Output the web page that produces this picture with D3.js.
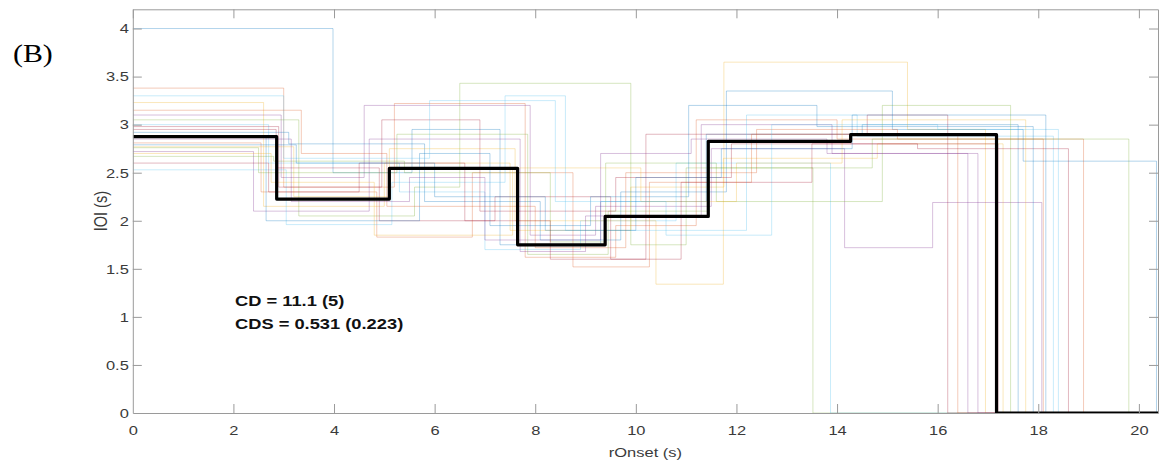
<!DOCTYPE html>
<html>
<head>
<meta charset="utf-8">
<script src="https://cdn.jsdelivr.net/npm/d3@7"></script>
<style>
  html, body { margin: 0; padding: 0; background: #fff; }
  svg { display: block; }
</style>
</head>
<body>
<svg id="chart" width="1159" height="468"></svg>
<script>
// Per-participant onset times (s) where the inter-onset interval changes, ending at the last onset
const trialTimes = [
  [0, 3.98, 5.55, 7.3, 9.3, 11.4, 14.5, 17.6],
  [0, 3.0, 5.2, 7.8, 9.6, 11.2, 14.0, 18.1],
  [0, 2.6, 5.0, 7.5, 9.9, 11.75, 15.4, 16.95],
  [0, 2.95, 4.6, 7.9, 9.2, 11.5, 14.15, 15.9, 18.07],
  [0, 3.3, 5.6, 6.5, 9.9, 11.0, 13.52],
  [0, 2.7, 5.3, 7.0, 8.9, 10.8, 13.87],
  [0, 2.85, 4.9, 7.2, 9.5, 10.2, 14.6, 16.2],
  [0, 3.1, 5.8, 8.1, 9.7, 11.8, 15.1, 17.7, 20.35],
  [0, 2.55, 4.85, 6.75, 8.75, 10.27, 12.3, 16.4],
  [0, 3.2, 5.1, 7.6, 10.4, 11.74, 14.8, 17.3],
  [0, 2.4, 4.7, 7.7, 9.0, 11.3, 13.9, 16.6],
  [0, 2.8, 5.4, 8.3, 9.4, 11.6, 14.9, 17.45],
  [0, 3.05, 5.15, 7.4, 8.6, 12.2, 14.4, 18.3],
  [0, 2.9, 4.95, 6.9, 9.6, 11.9, 15.6, 18.6],
  [0, 2.65, 5.7, 7.1, 9.1, 11.05, 13.6, 17.9],
  [0, 3.35, 5.05, 8.0, 9.8, 12.4, 15.2, 18.9],
  [0, 2.75, 4.8, 7.55, 10.1, 12.0, 14.1, 17.75],
  [0, 3.15, 5.5, 7.0, 9.3, 11.1, 13.8, 16.8],
  [0, 2.5, 5.25, 7.85, 9.45, 11.45, 14.7, 19.8],
  [0, 3.0, 5.9, 8.4, 10.6, 12.7, 16.0, 18.4],
  [0, 2.7, 4.5, 6.6, 8.3, 10.9, 13.5, 17.2],
  [0, 3.25, 6.0, 8.2, 10.0, 11.7, 14.3, 18.15]
];
// Inter-onset interval (s) held from each change time to the next
const trialIOI = [
  [4.0, 2.5, 2.95, 1.75, 2.2, 2.9, 3.0],
  [3.38, 2.35, 3.22, 1.62, 1.95, 3.05, 2.85],
  [3.23, 2.15, 2.6, 1.9, 2.35, 3.65, 2.95],
  [3.1, 2.45, 3.2, 1.85, 2.15, 2.75, 1.72, 2.19],
  [3.05, 2.05, 2.35, 3.43, 1.75, 2.55],
  [3.0, 2.6, 2.3, 1.7, 2.0, 2.6],
  [2.95, 2.55, 2.0, 2.25, 1.6, 2.9, 3.1],
  [2.92, 2.8, 2.2, 1.8, 2.3, 3.35, 2.95, 2.62],
  [2.81, 2.3, 1.83, 2.5, 1.52, 2.4, 2.9],
  [2.77, 2.25, 2.75, 2.0, 1.34, 2.65, 2.8],
  [2.72, 2.1, 2.85, 1.68, 2.05, 3.0, 2.7],
  [2.67, 2.62, 2.5, 1.78, 2.6, 2.2, 3.2],
  [2.53, 1.96, 2.4, 3.3, 1.9, 3.1, 2.88],
  [2.98, 2.35, 3.05, 2.1, 2.45, 2.8, 2.75],
  [2.88, 2.0, 2.7, 1.95, 2.25, 3.2, 2.98],
  [3.15, 2.7, 2.15, 1.72, 2.5, 2.95, 2.85],
  [2.7, 2.4, 1.85, 2.55, 2.2, 2.6, 3.05],
  [2.85, 2.2, 2.45, 1.8, 2.7, 2.85, 2.7],
  [2.76, 2.5, 2.9, 1.65, 2.1, 2.55, 2.85],
  [3.3, 2.65, 3.25, 2.2, 1.85, 3.0, 2.95],
  [2.6, 2.3, 2.6, 2.0, 1.6, 2.4, 2.8],
  [2.79, 2.6, 2.25, 1.9, 2.45, 2.75, 3.1]
];
// Group average step profile
const meanTimes = [0, 2.86, 5.10, 7.65, 9.39, 11.44, 14.27, 17.17];
const meanIOI = [2.875, 2.226, 2.545, 1.75, 2.045, 2.826, 2.896];

const xTicks = [0, 2, 4, 6, 8, 10, 12, 14, 16, 18, 20];
const yTicks = [0, 0.5, 1, 1.5, 2, 2.5, 3, 3.5, 4];
const xDomain = [0, 20.38];
const yDomain = [0, 4.2];
const statLines = ["CD = 11.1 (5)", "CDS = 0.531 (0.223)"];

const lineColors = ["#0072BD", "#D95319", "#EDB120", "#7E2F8E", "#77AC30", "#4DBEEE", "#A2142F"];

const svg = d3.select("#chart");
const m = { left: 132.8, right: 1158, top: 9.3, bottom: 413 };
const WIDEN = 1.22; // horizontal widening of all lettering

const x = d3.scaleLinear().domain(xDomain).range([m.left, m.right]);
const y = d3.scaleLinear().domain(yDomain).range([m.bottom, m.top]);

// widen a text element horizontally about its own anchor point
function widen(sel, sx) {
  sel.each(function () {
    const t = d3.select(this);
    const ax = +t.attr("x") || 0, ay = +t.attr("y") || 0;
    t.attr("transform", `translate(${ax},${ay}) scale(${sx},1) translate(${-ax},${-ay})`);
  });
}

// Turn change times + held values into a step path that drops to zero at the last onset
function toPoints(times, vals) {
  const pts = vals.map((v, i) => [times[i], v]);
  pts.push([times[times.length - 1], 0]);
  pts.push([xDomain[1], 0]);
  return pts;
}

const step = d3.line()
  .x(d => x(d[0]))
  .y(d => y(d[1]))
  .curve(d3.curveStepAfter);

const plot = svg.append("g");
plot.append("defs").append("clipPath").attr("id", "clip")
  .append("rect").attr("x", m.left).attr("y", m.top)
  .attr("width", m.right - m.left).attr("height", m.bottom - m.top);

const lines = plot.append("g").attr("clip-path", "url(#clip)");

lines.selectAll("path.trial")
  .data(trialTimes.map((t, i) => toPoints(t, trialIOI[i])))
  .join("path")
  .attr("class", "trial")
  .attr("d", step)
  .attr("fill", "none")
  .attr("stroke", (d, i) => lineColors[i % lineColors.length])
  .attr("stroke-opacity", 0.3)
  .attr("stroke-width", 1);

lines.append("path")
  .datum(toPoints(meanTimes, meanIOI))
  .attr("d", step)
  .attr("fill", "none")
  .attr("stroke", "#000")
  .attr("stroke-width", 3.2)
  .attr("stroke-linejoin", "round");

// Box axes with inward ticks on every side
const axisColor = "#9a9a9a";
const tickLen = 9;
const font = "'Liberation Sans', Arial, sans-serif";

const axB = svg.append("g").attr("transform", `translate(0,${m.bottom})`)
  .call(d3.axisBottom(x).tickValues(xTicks).tickSizeInner(-tickLen).tickSizeOuter(0).tickPadding(12).tickFormat(d3.format("d")));
const axT = svg.append("g").attr("transform", `translate(0,${m.top})`)
  .call(d3.axisTop(x).tickValues(xTicks).tickSizeInner(-tickLen).tickSizeOuter(0).tickFormat(""));
const axL = svg.append("g").attr("transform", `translate(${m.left},0)`)
  .call(d3.axisLeft(y).tickValues(yTicks).tickSizeInner(-tickLen).tickSizeOuter(0).tickPadding(4).tickFormat(d3.format("")));
const axR = svg.append("g").attr("transform", `translate(${m.right},0)`)
  .call(d3.axisRight(y).tickValues(yTicks).tickSizeInner(-tickLen).tickSizeOuter(0).tickFormat(""));

[axB, axT, axL, axR].forEach(a => {
  a.select(".domain").attr("stroke", axisColor).attr("stroke-width", 1);
  a.selectAll(".tick line").attr("stroke", axisColor).attr("stroke-width", 1);
  a.selectAll("text").attr("fill", "#3a3a3a").style("font-family", font).style("font-size", "13.5px");
});
widen(axB.selectAll(".tick text"), WIDEN);
widen(axL.selectAll(".tick text"), WIDEN);
// hide tick marks sitting on the box corners
axB.selectAll(".tick").filter(d => d === 0).select("line").remove();
axL.selectAll(".tick").filter(d => d === 0).select("line").remove();

svg.append("text")
  .attr("x", (m.left + m.right) / 2).attr("y", 457)
  .attr("text-anchor", "middle")
  .attr("fill", "#3a3a3a")
  .style("font-family", font).style("font-size", "13.5px")
  .text("rOnset (s)")
  .call(widen, WIDEN);

svg.append("text")
  .attr("transform", `translate(107,${(m.top + m.bottom) / 2}) scale(${WIDEN},1) rotate(-90)`)
  .attr("text-anchor", "middle")
  .attr("fill", "#3a3a3a")
  .style("font-family", font).style("font-size", "14.5px")
  .text("IOI (s)");

svg.append("text")
  .attr("x", 13).attr("y", 62)
  .attr("fill", "#000")
  .style("font-family", "'Liberation Serif', 'Times New Roman', serif")
  .style("font-size", "26px")
  .text("(B)")
  .call(widen, 1.15);

svg.append("g").selectAll("text")
  .data(statLines)
  .join("text")
  .attr("x", 235).attr("y", (d, i) => 306 + i * 23)
  .attr("fill", "#111")
  .style("font-family", font).style("font-size", "15px").style("font-weight", "bold")
  .text(d => d)
  .call(widen, WIDEN);
</script>
</body>
</html>
